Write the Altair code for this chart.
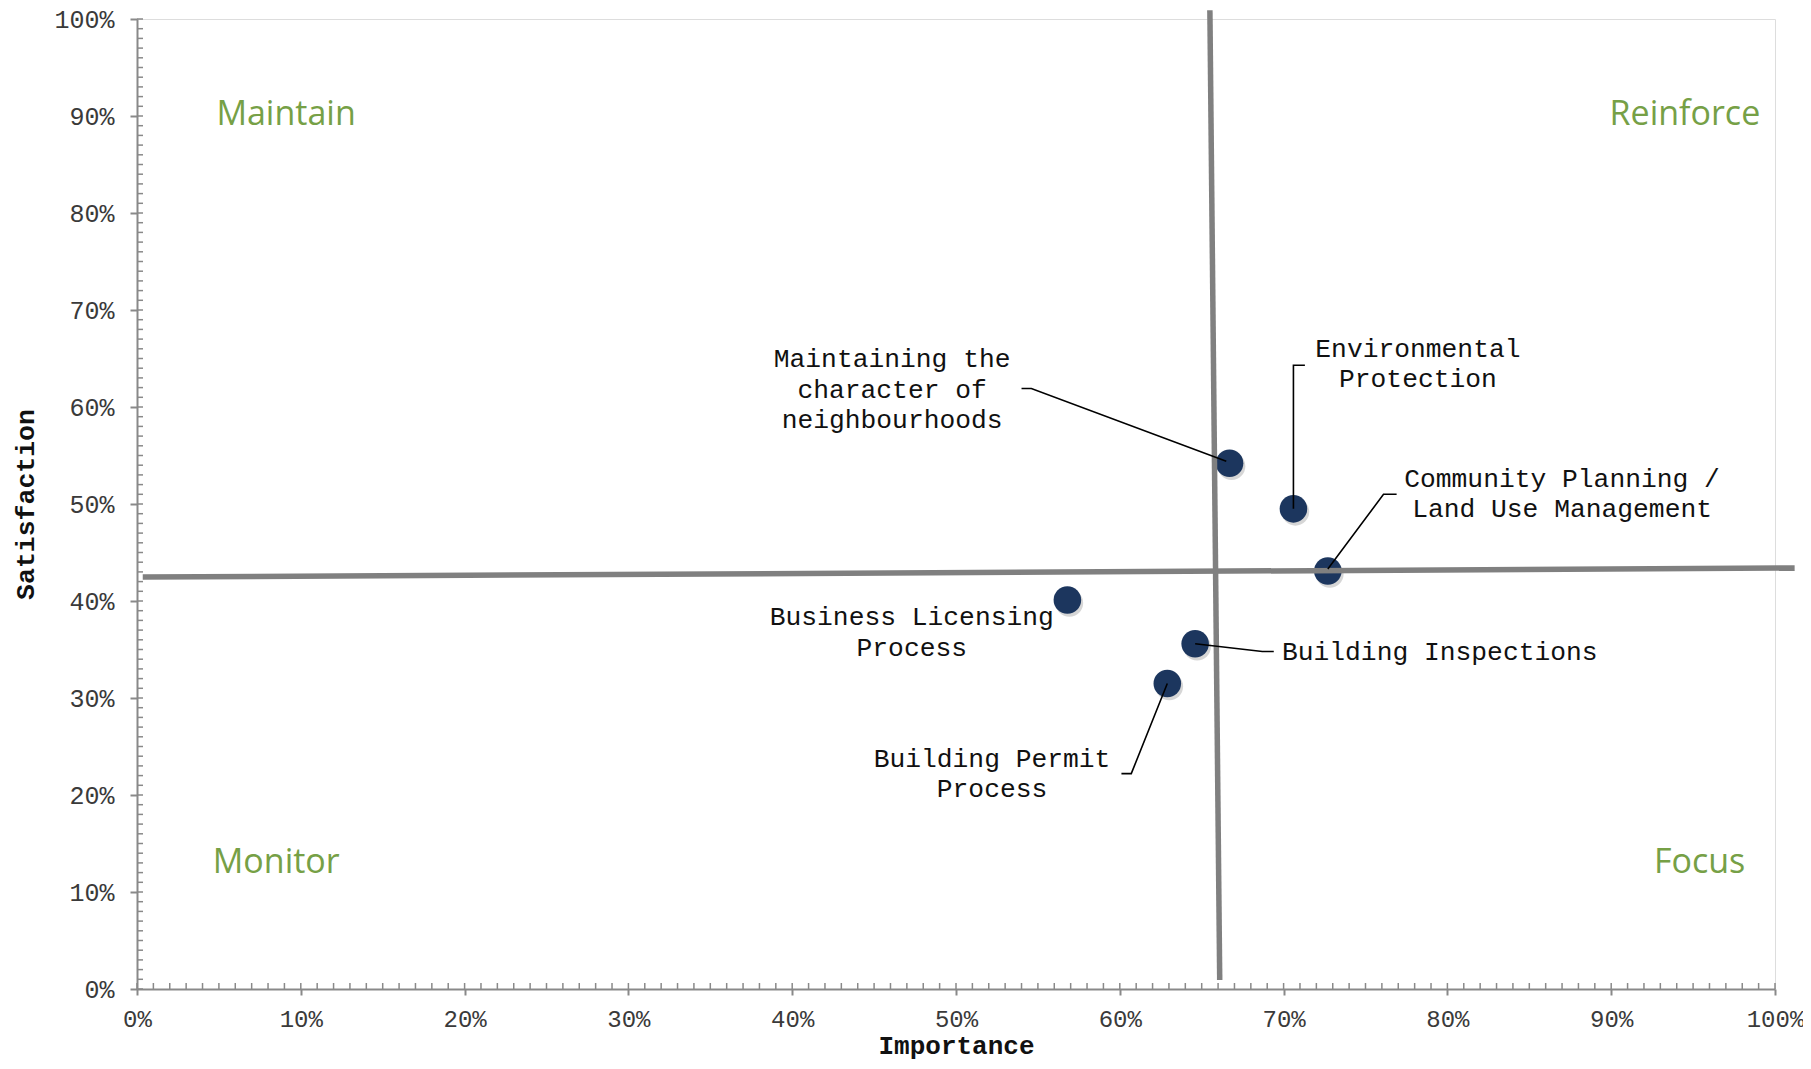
import altair as alt
import pandas as pd

# ---- data ----
services = ["Maintaining the character of neighbourhoods", "Environmental Protection",
            "Community Planning / Land Use Management", "Business Licensing Process",
            "Building Inspections", "Building Permit Process"]
importance = [66.7, 70.6, 72.7, 56.8, 64.6, 62.9]
satisfaction = [54.2, 49.5, 43.1, 40.1, 35.6, 31.5]

# annotation text lines
label_text = ["Maintaining the", "character of", "neighbourhoods",
              "Environmental", "Protection",
              "Community Planning /", "Land Use Management",
              "Business Licensing", "Process",
              "Building Inspections",
              "Building Permit", "Process"]
label_x = [46.1, 46.1, 46.1, 78.2, 78.2, 87.0, 87.0, 47.3, 47.3, 69.9, 52.2, 52.2]
label_y = [64.9, 61.8, 58.7, 66.0, 62.9, 52.6, 49.5, 38.3, 35.2, 34.7, 23.7, 20.6]
label_align = ["center"] * 9 + ["left"] + ["center"] * 2

# leader lines (polyline vertices)
leader_id = [0, 0, 0, 1, 1, 1, 2, 2, 2, 3, 3, 3, 4, 4, 4]
leader_ord = [0, 1, 2] * 5
leader_x = [54.0, 54.6, 66.5,
            71.3, 70.6, 70.6,
            76.9, 76.1, 72.7,
            69.4, 68.7, 64.6,
            60.1, 60.7, 62.9]
leader_y = [61.9, 61.9, 54.4,
            64.3, 64.3, 49.5,
            51.0, 51.0, 43.3,
            34.8, 34.8, 35.6,
            22.2, 22.2, 31.5]

# quadrant dividers (start / end)
div_x = [65.5, 0.35]
div_y = [100.9, 42.47]
div_x2 = [66.1, 101.2]
div_y2 = [0.93, 43.4]

# quadrant names
quad_text = ["Maintain", "Reinforce", "Monitor", "Focus"]
quad_x = [9.1, 94.5, 8.5, 95.4]
quad_y = [90.1, 90.1, 13.0, 13.0]

major_ticks = [0, 10, 20, 30, 40, 50, 60, 70, 80, 90, 100]
minor_ticks = list(range(0, 101))

W, H = 1638, 970
MONO = "Liberation Mono"
GRAY = "#898989"

pts = pd.DataFrame({"service": services, "imp": importance, "sat": satisfaction})
labels = pd.DataFrame({"t": label_text, "x": label_x, "y": label_y, "a": label_align})
leaders = pd.DataFrame({"id": leader_id, "o": leader_ord, "x": leader_x, "y": leader_y})
divs = pd.DataFrame({"x": div_x, "y": div_y, "x2": div_x2, "y2": div_y2})
quads = pd.DataFrame({"t": quad_text, "x": quad_x, "y": quad_y})
minor = pd.DataFrame({"v": minor_ticks})

xs = alt.Scale(domain=[0, 100], nice=False, zero=False)
ys = alt.Scale(domain=[0, 100], nice=False, zero=False)

x_axis = alt.Axis(values=major_ticks, labelExpr="datum.value + '%'", title="Importance",
                  grid=False, domainColor=GRAY, domainWidth=2, tickColor=GRAY, tickWidth=2,
                  tickSize=6, labelPadding=12, labelFont=MONO, labelFontSize=24,
                  labelFlush=False, labelOverlap=False,
                  labelColor="#3a3a3a", titleFont=MONO, titleFontSize=26, titleFontWeight="bold",
                  titleColor="#111111", titleY=56, titleBaseline="middle")
y_axis = alt.Axis(values=major_ticks, labelExpr="datum.value + '%'", title="Satisfaction",
                  grid=False, domainColor=GRAY, domainWidth=2, tickColor=GRAY, tickWidth=2,
                  tickSize=7, labelPadding=16, labelFont=MONO, labelFontSize=25,
                  labelFlush=False, labelOverlap=False,
                  labelColor="#3a3a3a", titleFont=MONO, titleFontSize=26.5, titleFontWeight="bold",
                  titleColor="#111111", titleX=-112, titleY=H / 2, titleBaseline="middle",
                  titleAngle=270)

base_pts = alt.Chart(pts)

frame = base_pts.mark_point(opacity=0).encode(
    x=alt.X("imp:Q", scale=xs, axis=x_axis),
    y=alt.Y("sat:Q", scale=ys, axis=y_axis),
)

x_minor = alt.Chart(minor).mark_rule(color=GRAY, strokeWidth=1.5).encode(
    x=alt.X("v:Q", scale=xs), y=alt.value(H), y2=alt.value(H - 6))
y_minor = alt.Chart(minor).mark_rule(color=GRAY, strokeWidth=1.5).encode(
    y=alt.Y("v:Q", scale=ys), x=alt.value(0), x2=alt.value(6))

dividers = alt.Chart(divs).mark_rule(color="#808080", strokeWidth=5.5).encode(
    x=alt.X("x:Q", scale=xs), y=alt.Y("y:Q", scale=ys), x2="x2:Q", y2="y2:Q")

shadow = base_pts.mark_circle(size=760, color="#000000", opacity=0.16, xOffset=2, yOffset=3).encode(
    x=alt.X("imp:Q", scale=xs), y=alt.Y("sat:Q", scale=ys))
dots = base_pts.mark_circle(size=760, color="#1C365E", opacity=1).encode(
    x=alt.X("imp:Q", scale=xs), y=alt.Y("sat:Q", scale=ys), tooltip=["service:N"])

lead = alt.Chart(leaders).mark_line(color="#000000", strokeWidth=1.6).encode(
    x=alt.X("x:Q", scale=xs), y=alt.Y("y:Q", scale=ys), detail="id:N", order="o:Q")

txt_c = alt.Chart(labels).transform_filter("datum.a == 'center'").mark_text(
    font=MONO, fontSize=26.3, color="#111111", align="center", baseline="middle").encode(
    x=alt.X("x:Q", scale=xs), y=alt.Y("y:Q", scale=ys), text="t:N")
txt_l = alt.Chart(labels).transform_filter("datum.a == 'left'").mark_text(
    font=MONO, fontSize=26.3, color="#111111", align="left", baseline="middle").encode(
    x=alt.X("x:Q", scale=xs), y=alt.Y("y:Q", scale=ys), text="t:N")

quad = alt.Chart(quads).mark_text(font="Open Sans", fontSize=34, fontWeight=500, color="#76A046",
                                  align="center", baseline="middle").encode(
    x=alt.X("x:Q", scale=xs), y=alt.Y("y:Q", scale=ys), text="t:N")

chart = alt.layer(frame, x_minor, y_minor, shadow, dots, dividers, lead, txt_c, txt_l, quad).properties(
    width=W, height=H,
    autosize=alt.AutoSizeParams(type="none"),
    padding={"left": 129, "top": 11, "right": 28, "bottom": 72},
).configure_view(stroke=None).configure(background="#ffffff")

chart.save("out.html", embed_options={"renderer": "svg", "actions": False})
